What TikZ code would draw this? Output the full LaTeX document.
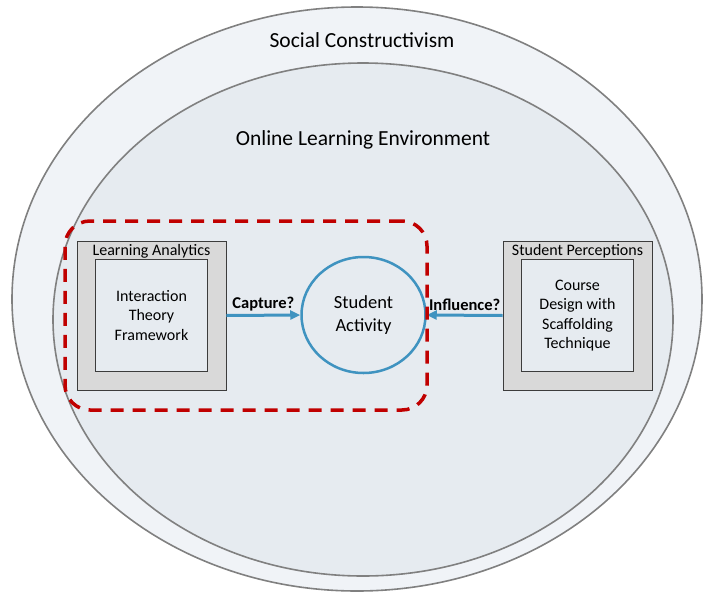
\documentclass[tikz,border=0pt]{standalone}
\usepackage{fontspec}
\setmainfont{Carlito}
\usetikzlibrary{arrows.meta,positioning,shapes.geometric}

\definecolor{ringline}{HTML}{808080}
\definecolor{outerfill}{HTML}{F0F3F7}
\definecolor{innerfill}{HTML}{E6EBF0}
\definecolor{boxgray}{HTML}{D9D9D9}
\definecolor{boxline}{HTML}{3C3C3C}
\definecolor{actblue}{HTML}{3F93C0}
\definecolor{focusred}{HTML}{C00000}

\begin{document}
\begin{tikzpicture}[x=1pt,y=-1pt]

  % Styles
  \tikzstyle{ring}=[ellipse,draw=ringline,line width=1.6pt,inner sep=0pt]
  \tikzstyle{frame}=[draw=boxline,fill=boxgray,line width=0.8pt,minimum width=149pt,minimum height=149pt,inner sep=0pt]
  \tikzstyle{title}=[inner sep=1pt,font=\fontsize{16}{19}\selectfont]
  \tikzstyle{core}=[draw=boxline,fill=innerfill,line width=0.8pt,minimum width=112pt,minimum height=112pt,align=center,font=\fontsize{16}{19.5}\selectfont]
  \tikzstyle{to}=[-{Triangle[length=10pt,width=9pt]},draw=actblue,line width=3pt]
  \tikzstyle{ask}=[midway,above=3pt,inner sep=0pt,font=\fontsize{16.5}{19}\selectfont\bfseries]

  % \panel{<id>}{<title>}{<label>}
  \newcommand{\panel}[3]{node[frame] (#1) {}
    node[title,below=2.5pt of #1.north] (#1-title) {#2}
    node[core] (#1-in) at (#1.center) {#3}}

  % ===========================================================================

  \useasboundingbox (0,0) rectangle (707,592);

  % Draw rings
  \node[ring,fill=outerfill,minimum width=690pt,minimum height=584pt] (society) at (357,299) {};
  \node[ring,fill=innerfill,minimum width=620pt,minimum height=513pt] (online) at (363,319.5) {};
  \node[font=\fontsize{21.5}{24}\selectfont] (society-label) at (362,40) {Social Constructivism};
  \node[font=\fontsize{21.5}{24}\selectfont] (online-label) at (363,140) {Online Learning Environment};

  % Draw blocks
  \path (151.5,315.5) \panel{la}{Learning Analytics}{Interaction\\Theory\\Framework};
  \path (577.5,315.5) \panel{sp}{Student Perceptions}{Course\\Design with\\Scaffolding\\Technique};
  \node[ellipse,draw=actblue,line width=2.5pt,fill=innerfill,minimum width=124pt,minimum height=116pt,
        align=center,font=\fontsize{18.5}{23}\selectfont] (act) at (363.5,315) {Student\\Activity};

  % Draw arrows
  \draw[to] (la.east) -- node[ask] (cap) {Capture?} (act.west);
  \draw[to] (sp.west) -- node[ask] (inf) {Influence?} (act.east);

  % Dashed focus region
  \node[draw=focusred,line width=3.5pt,dash pattern=on 13pt off 9pt,rounded corners=25pt,
        minimum width=362pt,minimum height=189pt] (focus) at (246,315.5) {};

\end{tikzpicture}
\end{document}
